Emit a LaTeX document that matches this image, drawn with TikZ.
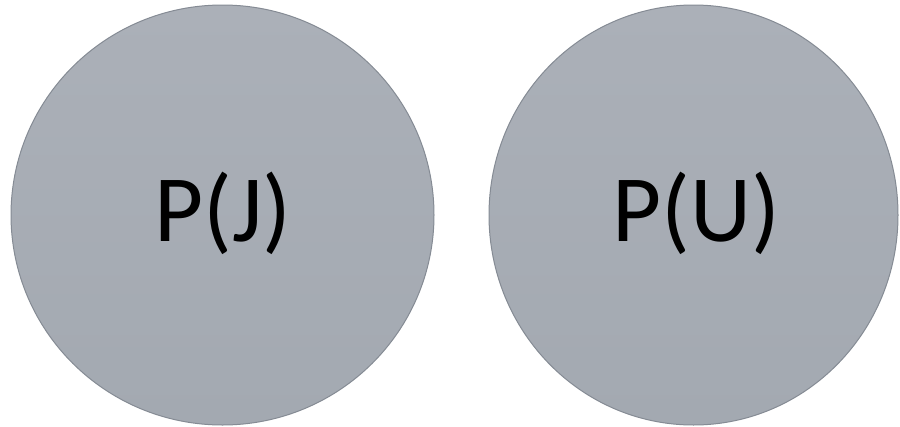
\documentclass[tikz,border=0pt]{standalone}
\usepackage{fontspec}
\setmainfont{Carlito}
\usetikzlibrary{shapes.geometric}
\definecolor{disctop}{HTML}{ABB0B8}
\definecolor{discbot}{HTML}{A3A9B1}
\definecolor{discedge}{HTML}{858B94}
\begin{document}
\begin{tikzpicture}[x=1pt,y=-1pt,
  disc/.style={ellipse, draw=discedge, line width=1pt, top color=disctop, bottom color=discbot, inner sep=0pt},
  label/.style={font=\fontsize{95}{100}\selectfont, text=black, anchor=base}]
\useasboundingbox (0,0) rectangle (900,426);
\fill[white] (0,0) rectangle (900,426);
\node[disc, minimum width=423pt, minimum height=420pt] (pj) at (222.5,215) {};
\node[disc, minimum width=409pt, minimum height=420pt] (pu) at (693.5,215) {};
\node[label] (tj) at (223,241) {P(J)};
\node[label] (tu) at (696,241) {P(U)};
\end{tikzpicture}
\end{document}
